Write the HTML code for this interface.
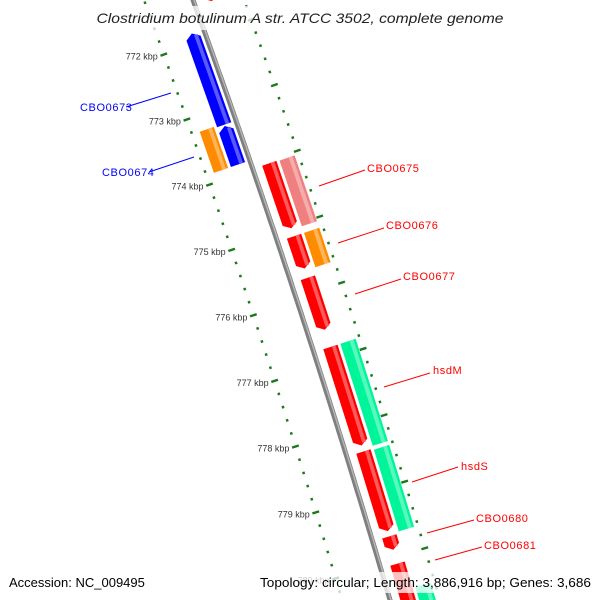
<!DOCTYPE html>
<html><head><meta charset="utf-8"><style>
html,body{margin:0;padding:0;background:#fff;width:600px;height:600px;overflow:hidden;}
svg{display:block;overflow:hidden;font-family:"Liberation Sans","DejaVu Sans",sans-serif;}
</style></head><body>
<svg id="map" width="600" height="600" viewBox="0 0 600 600" xmlns="http://www.w3.org/2000/svg">
<g id="ticks"></g>
<g id="backbone"></g>
<g id="genes"></g>
<g font-size="11" letter-spacing="0.6">
 <line x1="126" y1="107" x2="171" y2="93" stroke="#0000ff"/>
 <text x="80" y="111" fill="#0000ff">CBO0673</text>
 <line x1="149" y1="172" x2="194" y2="157" stroke="#0000ff"/>
 <text x="102" y="176" fill="#0000ff">CBO0674</text>
 <line x1="319" y1="186" x2="365" y2="170" stroke="#ff0000"/>
 <text x="367" y="172" fill="#ff0000">CBO0675</text>
 <line x1="338" y1="243" x2="384" y2="228" stroke="#ff0000"/>
 <text x="386" y="229" fill="#ff0000">CBO0676</text>
 <line x1="355" y1="294" x2="401" y2="279" stroke="#ff0000"/>
 <text x="403" y="280" fill="#ff0000">CBO0677</text>
 <line x1="384" y1="387" x2="430" y2="373" stroke="#ff0000"/>
 <text x="433" y="374" fill="#ff0000">hsdM</text>
 <line x1="412" y1="482" x2="458" y2="467" stroke="#ff0000"/>
 <text x="461" y="470" fill="#ff0000">hsdS</text>
 <line x1="427" y1="533" x2="474" y2="520" stroke="#ff0000"/>
 <text x="476" y="522" fill="#ff0000">CBO0680</text>
 <line x1="435" y1="560" x2="482" y2="547" stroke="#ff0000"/>
 <text x="484" y="549" fill="#ff0000">CBO0681</text>
</g>
<rect x="93" y="6" width="415" height="24" fill="#fff" opacity="0.75"/>
<text x="300" y="23" text-anchor="middle" font-size="14" font-style="italic" fill="#222" textLength="407" lengthAdjust="spacingAndGlyphs">Clostridium botulinum A str. ATCC 3502, complete genome</text>
<rect x="5" y="572" width="142" height="21" fill="#fff" opacity="0.75"/>
<rect x="256" y="572" width="339" height="21" fill="#fff" opacity="0.75"/>
<text x="9" y="587" font-size="13" fill="#000">Accession: NC_009495</text>
<text x="591" y="587" font-size="13" fill="#000" text-anchor="end" textLength="331" lengthAdjust="spacingAndGlyphs">Topology: circular; Length: 3,886,916 bp; Genes: 3,686</text>
</svg>
<script>
// ---- data ----
const geneNames  = ['CBO0672','CBO0673','CBO0674b','CBO0674','CBO0675','CBO0675-feat','CBO0676','CBO0676-feat','CBO0677','hsdM','hsdM-feat','hsdS','hsdS-feat','CBO0680','CBO0681','CBO0681-feat'];
const geneStarts = [771.30,771.85,773.27,773.23,773.99,774.00,775.10,775.10,775.73,776.78,776.78,778.36,778.38,779.64,780.05,780.45];
const geneEnds   = [771.51,773.25,773.86,773.86,774.98,775.00,775.59,775.62,776.52,778.27,778.32,779.56,779.61,779.84,781.20,781.20];
const geneStrand = [1,-1,-1,0,1,0,1,0,1,1,0,1,0,1,1,0];
const geneTrack  = ['r1','l1','l1','l2','r1','r2','r1','r2','r1','r1','r2','r1','r2','r1','r1','r2'];
const geneColor  = ['#ff0000','#0000ff','#0000ff','#ff8c00','#ff0000','#f08080','#ff0000','#ff8c00','#ff0000','#ff0000','#00f59a','#ff0000','#00f59a','#ff0000','#ff0000','#00f59a'];
const majorTicks = [772,773,774,775,776,777,778,779,780];
const tickLabels = ['772 kbp','773 kbp','774 kbp','775 kbp','776 kbp','777 kbp','778 kbp','779 kbp','780 kbp'];
const rangeStart = 771.2, rangeEnd = 781.2, minorStep = 0.2, rightRingOffset = -0.05;

// ---- geometry (huge circle) ----
const NS='http://www.w3.org/2000/svg';
const P0=[193,0],P1=[390,600],sag=5;
const dx=P1[0]-P0[0],dy=P1[1]-P0[1],L=Math.hypot(dx,dy);
const R=(L*L/4+sag*sag)/(2*sag);
const nx=dy/L, ny=-dx/L;
const M=[(P0[0]+P1[0])/2,(P0[1]+P1[1])/2];
const C=[M[0]-nx*(R-sag),M[1]-ny*(R-sag)];
function thetaAtY(y){return Math.asin((y-C[1])/R);}
const th772=thetaAtY(39), th779=thetaAtY(499);
const radPerKbp=(th779-th772)/7;
function ang(k){return th772+(k-772)*radPerKbp;}
function pt(k,d){const t=ang(k),r=R+d;return [C[0]+r*Math.cos(t),C[1]+r*Math.sin(t)];}
const tracks={r1:[10,25],r2:[28,44],l1:[-20,-5],l2:[-38,-23]};
const headKbp=5/(radPerKbp*R);
function mk(tag,attrs,parent){const e=document.createElementNS(NS,tag);for(const a in attrs)e.setAttribute(a,attrs[a]);parent.appendChild(e);return e;}
function poly(ps){return ps.map(p=>p[0].toFixed(1)+','+p[1].toFixed(1)).join(' ');}

// backbone
const bb=document.getElementById('backbone');
const bpts=[];for(let k=rangeStart-0.6;k<=rangeEnd;k+=0.1)bpts.push(pt(k,0));
const bl=mk('polyline',{points:poly(bpts),fill:'none',stroke:'#7f7f7f','stroke-width':5},bb);


const bpts2=[];for(let k=rangeStart-0.6;k<=rangeEnd;k+=0.1)bpts2.push(pt(k,1));
const bl2=mk('polyline',{points:poly(bpts2),fill:'none',stroke:'#b5b5b5','stroke-width':1.5},bb);



// ticks
const tg=document.getElementById('ticks');
function tick(k,d,len,w,name){const a=pt(k,d-len/2),b=pt(k,d+len/2);const l=mk('line',{x1:a[0],y1:a[1],x2:b[0],y2:b[1],stroke:'#1a7a1a','stroke-width':w},tg);}
const nMinor=Math.round((rangeEnd-rangeStart)/minorStep);
for(let i=0;i<=nMinor;i++){const k=rangeStart+i*minorStep;
  if(Math.abs(k-Math.round(k))>0.01)tick(k,-46,2.5,2.5,'minor-tick-left');
  const k2=k+rightRingOffset; if(Math.abs(k-Math.round(k))>0.01)tick(k2,48,2.5,2.5,'minor-tick-right');}
majorTicks.forEach((k,i)=>{
  tick(k,-46,7,2.4,'major-tick-left');
  tick(k+rightRingOffset,48,7,2.4,'major-tick-right');
  const p=pt(k,-46);
  const t=mk('text',{x:(p[0]-6).toFixed(1),y:(p[1]+5).toFixed(1),'text-anchor':'end','font-size':9,fill:'#333'},tg);
  
  
  t.textContent=tickLabels[i];
});

// genes
const gg=document.getElementById('genes');
function lighten(c){const n=parseInt(c.slice(1),16);let r=n>>16,g=(n>>8)&255,b=n&255;r=Math.round(r+(255-r)*0.35);g=Math.round(g+(255-g)*0.35);b=Math.round(b+(255-b)*0.35);return 'rgb('+r+','+g+','+b+')';}
function shape(a,b,d1,d2,strand){
  const ps=[];
  if(strand===1){const e=b-headKbp;ps.push(pt(a,d1),pt(a,d2),pt(e,d2),pt(b,(d1+d2)/2),pt(e,d1));}
  else if(strand===-1){const s=a+headKbp;ps.push(pt(a,(d1+d2)/2),pt(s,d2),pt(b,d2),pt(b,d1),pt(s,d1));}
  else ps.push(pt(a,d1),pt(a,d2),pt(b,d2),pt(b,d1));
  return ps;
}
geneNames.forEach((nm,i)=>{
  const tr=tracks[geneTrack[i]],a=geneStarts[i],b=geneEnds[i],s=geneStrand[i];
  const g=mk('g',{},gg);
  
  
  const p=mk('polygon',{points:poly(shape(a,b,tr[0],tr[1],s)),fill:geneColor[i]},g);
  
  
  const w=tr[1]-tr[0];
  const hp=mk('polygon',{points:poly(shape(a+(s===-1?headKbp*0.5:0),b-(s===1?headKbp*0.5:0),tr[0]+w*0.6,tr[0]+w*0.85,0)),fill:lighten(geneColor[i])},g);
  
  
});
</script>
</body></html>
